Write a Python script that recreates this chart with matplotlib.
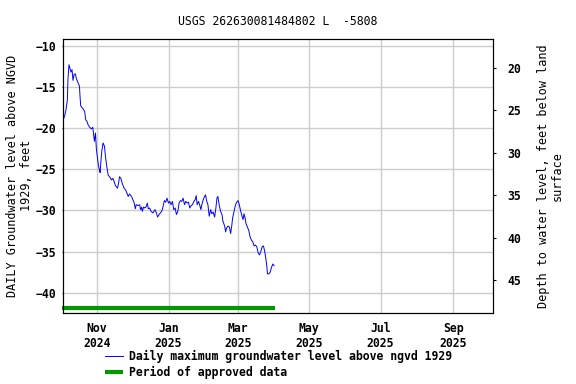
import matplotlib
matplotlib.use("Agg")
import matplotlib.pyplot as plt
import pandas as pd

# Fuente monoespaciada en negrita, parecida a la del grafico original
plt.rcParams["font.family"] = "DejaVu Sans Mono"
plt.rcParams["font.weight"] = "bold"

# Datos: dias desde el 1 de octubre de 2024 y nivel (pies sobre NGVD 1929)
inicio = pd.Timestamp("2024-10-01")
dias = [
    2.1, 3.3, 4.4, 5.6, 6.1, 7.0, 7.9, 8.7, 9.6, 10.4, 11.3, 12.4, 13.3, 14.7, 15.9,
    16.4, 17.0, 18.7, 20.4, 21.3, 22.4, 23.3, 24.7, 26.1, 27.3, 27.9, 28.7, 29.6, 30.4,
    31.3, 32.1, 33.0, 33.6, 34.1, 35.0, 36.1, 37.3, 38.1, 39.3, 40.4, 41.6, 43.3, 44.4,
    45.6, 46.7, 48.4, 49.3, 50.1, 51.3, 52.4, 54.1, 55.3, 56.4, 57.6, 58.7, 60.4, 61.6,
    62.7, 63.6, 64.4, 66.1, 67.3, 68.1, 69.0, 69.6, 70.7, 71.9, 73.0, 73.9, 74.7, 75.9,
    77.0, 78.7, 80.4, 81.6, 82.7, 83.9, 85.6, 86.7, 87.6, 88.4, 89.6, 90.7, 91.9, 93.0,
    94.1, 95.3, 96.4, 97.6, 98.7, 99.9, 101.0, 102.1, 103.3, 104.4, 105.6, 106.7, 107.9,
    109.0, 110.1, 111.3, 112.4, 113.6, 114.7, 115.6, 116.4, 117.6, 118.7, 119.6, 120.4,
    121.6, 122.7, 123.6, 124.4, 125.6, 126.7, 127.9, 129.0, 130.1, 131.3, 132.4, 133.3,
    134.1, 135.3, 136.4, 137.6, 138.4, 139.9, 140.7, 141.6, 142.7, 143.9, 145.0, 145.9,
    146.7, 147.9, 149.0, 150.1, 151.3, 152.4, 153.6, 154.7, 155.6, 156.4, 157.3, 158.1,
    159.3, 160.4, 161.6, 162.7, 163.9, 165.0, 166.1, 167.3, 168.4, 169.6, 170.7, 171.9,
    173.0, 174.1, 175.0, 175.9, 176.4, 177.6, 178.7, 179.9, 181.0, 182.1,
]
nivel = [
    -19.0, -18.5, -17.8, -16.6, -14.1, -12.3, -12.8, -13.2, -12.9, -14.2, -13.5, -13.4,
    -14.0, -14.5, -14.9, -16.1, -17.3, -17.6, -18.0, -19.0, -19.2, -19.6, -19.9, -20.1,
    -19.9, -20.6, -21.6, -20.6, -22.6, -23.6, -24.5, -25.1, -25.4, -24.3, -22.8, -21.8,
    -22.2, -23.4, -24.7, -25.7, -25.9, -26.3, -26.1, -26.5, -27.0, -27.3, -26.7, -25.9,
    -26.1, -26.7, -27.3, -27.5, -27.9, -28.3, -28.0, -28.3, -28.7, -29.1, -29.8, -29.3,
    -29.4, -29.3, -29.9, -29.6, -30.1, -29.6, -29.7, -29.5, -29.1, -29.8, -29.7, -30.1,
    -30.3, -29.9, -30.3, -30.8, -30.5, -30.2, -29.9, -29.3, -28.8, -29.0, -28.5, -29.1,
    -28.9, -29.3, -28.9, -29.9, -29.7, -30.5, -30.1, -29.1, -28.8, -28.9, -28.5, -29.3,
    -28.9, -29.1, -29.0, -29.7, -29.4, -29.3, -28.9, -28.7, -28.2, -29.3, -28.9, -29.4,
    -29.9, -29.3, -28.7, -28.3, -28.1, -28.8, -29.3, -30.7, -29.9, -30.4, -30.2, -30.8,
    -29.7, -28.5, -28.3, -29.4, -30.1, -30.5, -31.3, -31.9, -32.6, -32.1, -31.9, -32.0,
    -32.8, -31.9, -30.9, -30.1, -29.4, -29.0, -28.8, -29.3, -30.1, -30.7, -31.1, -30.4,
    -30.9, -31.6, -32.0, -32.4, -33.2, -33.6, -33.8, -34.3, -34.2, -34.4, -35.1, -35.4,
    -35.0, -34.4, -34.3, -35.0, -35.8, -36.8, -37.7, -37.7, -37.5, -36.9, -36.5, -36.7,
]

# Periodo de datos aprobados
periodo_aprobado = ["2024-10-02", "2025-04-02"]

# Marcas del eje x
meses = ["2024-11-01", "2025-01-01", "2025-03-01", "2025-05-01", "2025-07-01", "2025-09-01"]
etiquetas_meses = ["Nov\n2024", "Jan\n2025", "Mar\n2025", "May\n2025", "Jul\n2025", "Sep\n2025"]

niveles_ticks = [-10, -15, -20, -25, -30, -35, -40]
profundidad_ticks = [20, 25, 30, 35, 40, 45]

fechas = inicio + pd.to_timedelta(dias, unit="D")

fig = plt.figure(figsize=(5.76, 3.84), dpi=100)
ax = fig.add_axes([0.109, 0.186, 0.747, 0.712])

ax.grid(True, color="#cccccc", linewidth=1)
ax.set_axisbelow(True)

ax.plot(fechas, nivel, color="blue", linewidth=0.7,
        label="Daily maximum groundwater level above ngvd 1929")
ax.plot(pd.to_datetime(periodo_aprobado), [-41.8, -41.8], color="#009900", linewidth=3,
        solid_capstyle="butt", clip_on=False, label="Period of approved data")

ax.set_xlim(inicio + pd.Timedelta(days=1.7), pd.Timestamp("2025-10-05"))
ax.set_ylim(-42.4, -9.2)
ax.set_xticks(pd.to_datetime(meses))
ax.set_xticklabels(etiquetas_meses, fontsize=8.3)
ax.set_yticks(niveles_ticks)
ax.tick_params(axis="x", length=0, pad=7)
ax.tick_params(axis="y", labelsize=8.3, length=1, pad=4)
ax.set_ylabel("DAILY Groundwater level above NGVD\n1929, feet", fontsize=8.5, linespacing=1.05)
ax.yaxis.set_label_coords(-0.07, 0.5)

# Eje derecho con la profundidad al agua
ax2 = ax.twinx()
ax2.set_ylim(48.86, 16.58)
ax2.set_yticks(profundidad_ticks)
ax2.tick_params(axis="y", labelsize=8.3, length=2, pad=8)
ax2.set_ylabel("Depth to water level, feet below land\nsurface", fontsize=8.5, linespacing=1.0)
ax2.yaxis.set_label_coords(1.103, 0.5)

ax.set_title("USGS 262630081484802 L  -5808", fontsize=8.3, pad=10)

leyenda = fig.legend(loc="upper left", bbox_to_anchor=(0.172, 0.103), frameon=False,
                     fontsize=8.3, handlelength=1.6, handletextpad=0.5,
                     borderpad=0, labelspacing=0.25)

fig.savefig("out.png", dpi=100)
